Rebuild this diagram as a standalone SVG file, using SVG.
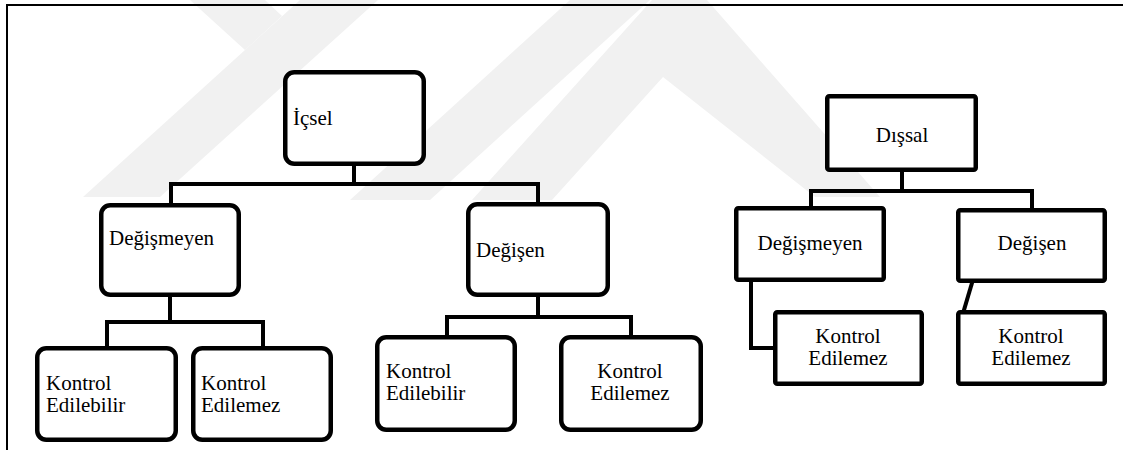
<svg xmlns="http://www.w3.org/2000/svg" width="1123" height="450" viewBox="0 0 1123 450">
<style>
.wm{fill:#f1f1f1;stroke:none}
.box{fill:#ffffff;stroke:#000;stroke-width:4.5}
.conn{fill:none;stroke:#000;stroke-width:4;stroke-linejoin:miter;stroke-linecap:square}
.frame{fill:none;stroke:#000;stroke-width:2}
.t{font-family:'Liberation Serif','Times New Roman',Times,serif;font-size:21px;fill:#000}
.c{text-anchor:middle}
</style>
<rect width="1123" height="450" fill="#fff"/>
<g id="watermark">
<polygon class="wm" points="300,0 378,0 160,197 83,197"/>
<polygon class="wm" points="190,0 265,0 282,16 245,50"/>
<polygon class="wm" points="570,0 650,0 430,200 350,200"/>
<polygon class="wm" points="652,0 707,0 880,197 815,197 663,77 552,200 472,200"/>
</g>
<g id="frame">
<path class="frame" d="M7,450 V5 H1123"/>
</g>
<g id="connectors">
<path class="conn" d="M354,166 V184 M171,203 V184 H538 V202"/>
<path class="conn" d="M170,297 V322 M107,346 V322 H263 V346"/>
<path class="conn" d="M538,297 V317 M447,335 V317 H631 V335"/>
<path class="conn" d="M902,172 V191 M811,206 V191 H1032 V208"/>
<path class="conn" d="M751,282 V348 H773"/>
<path class="conn" d="M972,283 L964,310"/>
</g>
<g id="icsel"><rect class="box" x="285.25" y="72.25" width="138.5" height="91.5" rx="9"/><text class="t" x="293" y="125">İçsel</text></g>
<g id="degismeyen-ic"><rect class="box" x="101.25" y="205.25" width="137.5" height="89.5" rx="9"/><text class="t" x="109" y="245">Değişmeyen</text></g>
<g id="kontrol-edilebilir-1"><rect class="box" x="37.25" y="348.25" width="138.5" height="91.5" rx="9"/><text class="t" x="46" y="390">Kontrol</text><text class="t" x="46" y="412">Edilebilir</text></g>
<g id="kontrol-edilemez-1"><rect class="box" x="193.25" y="348.25" width="137.5" height="91.5" rx="9"/><text class="t" x="201" y="390">Kontrol</text><text class="t" x="201" y="412">Edilemez</text></g>
<g id="degisen-ic"><rect class="box" x="468.25" y="204.25" width="139.5" height="90.5" rx="9"/><text class="t" x="476" y="257">Değişen</text></g>
<g id="kontrol-edilebilir-2"><rect class="box" x="377.25" y="337.25" width="137.5" height="92.5" rx="9"/><text class="t" x="386" y="378">Kontrol</text><text class="t" x="386" y="400">Edilebilir</text></g>
<g id="kontrol-edilemez-2"><rect class="box" x="561.25" y="337.25" width="139.5" height="92.5" rx="9"/><text class="t c" x="630" y="378">Kontrol</text><text class="t c" x="630" y="400">Edilemez</text></g>
<g id="dissal"><rect class="box" x="827.25" y="96.25" width="148.5" height="73.5" rx="2"/><text class="t c" x="902" y="142">Dışsal</text></g>
<g id="degismeyen-dis"><rect class="box" x="736.25" y="208.25" width="147.5" height="71.5" rx="2"/><text class="t c" x="810" y="250">Değişmeyen</text></g>
<g id="degisen-dis"><rect class="box" x="958.25" y="210.25" width="146.5" height="70.5" rx="2"/><text class="t c" x="1032" y="250">Değişen</text></g>
<g id="kontrol-edilemez-3"><rect class="box" x="775.25" y="312.25" width="146.5" height="71.5" rx="2"/><text class="t c" x="848" y="343">Kontrol</text><text class="t c" x="848" y="365">Edilemez</text></g>
<g id="kontrol-edilemez-4"><rect class="box" x="958.25" y="312.25" width="146.5" height="71.5" rx="2"/><text class="t c" x="1031" y="343">Kontrol</text><text class="t c" x="1031" y="365">Edilemez</text></g>
</svg>
